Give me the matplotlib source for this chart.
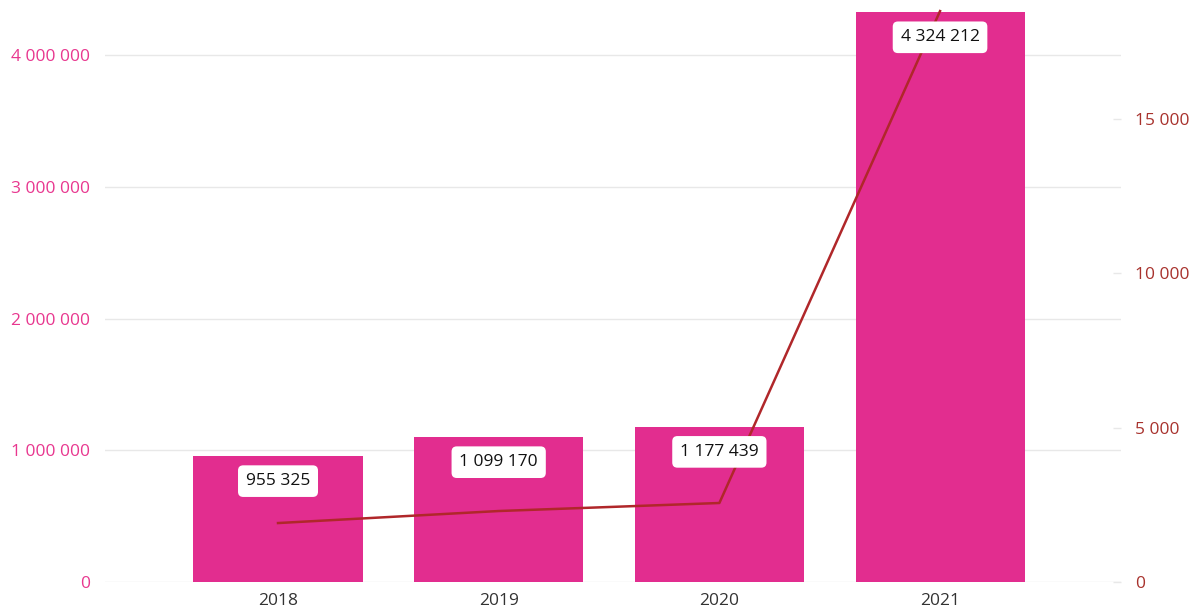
import matplotlib.pyplot as plt
from matplotlib.ticker import FuncFormatter

plt.rcParams['font.family'] = ['Open Sans', 'DejaVu Sans']

# data
years = ['2018', '2019', '2020', '2021']
bar_values = [955325, 1099170, 1177439, 4324212]
line_values = [1910, 2300, 2560, 18500]

bar_color = '#E22D8F'
line_color = '#B0272A'
grid_color = '#E8E8E8'


def spaced(v, pos=None):
    return f'{int(round(v)):,}'.replace(',', ' ')


fig = plt.figure(figsize=(11.97, 6.10), dpi=100)
ax = fig.add_axes([105 / 1197, 1 - 582 / 610, (1121 - 105) / 1197, (582 - 10) / 610])
ax2 = ax.twinx()

x = list(range(len(years)))
ax.bar(x, bar_values, width=0.766, color=bar_color, zorder=2)
ax.set_xlim(-0.784, 3.82)
ax.set_ylim(0, 4341600)
ax.set_yticks([0, 1000000, 2000000, 3000000, 4000000])
ax.yaxis.set_major_formatter(FuncFormatter(spaced))
ax.grid(axis='y', color=grid_color, linewidth=1)
ax.set_axisbelow(True)
ax.set_xticks(x)
ax.set_xticklabels(years)

for s in ax.spines.values():
    s.set_visible(False)
for s in ax2.spines.values():
    s.set_visible(False)

ax.tick_params(axis='y', length=0, pad=11, labelsize=12.5, labelcolor='#E8378F')
ax.tick_params(axis='x', length=0, pad=8, labelsize=12.5, labelcolor='#333333')

ax2.plot(x, line_values, color=line_color, linewidth=1.8, zorder=3, clip_on=False)
ax2.set_ylim(0, 18535)
ax2.set_yticks([0, 5000, 10000, 15000])
ax2.yaxis.set_major_formatter(FuncFormatter(spaced))
ax2.tick_params(axis='y', direction='in', length=6, width=1, color=grid_color,
                pad=10, labelsize=12.5, labelcolor='#A8322D')

# value labels in white boxes under the bar tops
for xi, v in zip(x, bar_values):
    ax2.annotate(spaced(v), xy=(xi, v), xycoords=('data', ax.transData),
                 xytext=(0, -18), textcoords='offset points',
                 ha='center', va='center', fontsize=12.5, color='#111111', zorder=5,
                 bbox=dict(boxstyle='round,pad=0.45,rounding_size=0.3',
                           fc='white', ec='none'))

fig.savefig('out.png', dpi=100)
